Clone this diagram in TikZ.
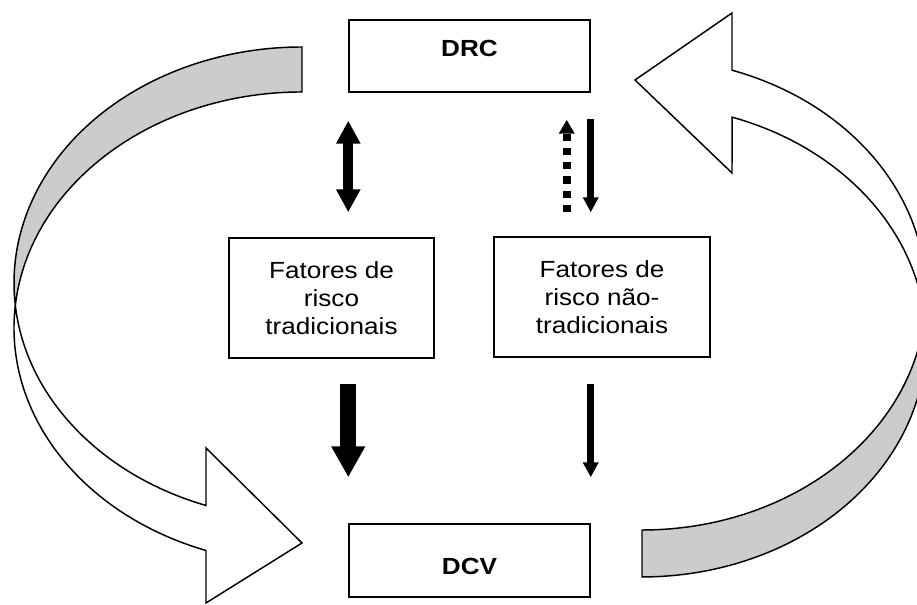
\documentclass[tikz,border=0pt]{standalone}
\usepackage{fontspec}
\setmainfont{Liberation Sans}[FakeStretch=1.12]
\usetikzlibrary{arrows.meta}

\begin{document}
\begin{tikzpicture}[
  x=0.75pt, y=0.75pt,
  every node/.style={font=\fontsize{17.5pt}{21pt}\selectfont, align=center},
  caixa/.style={draw, line width=1.1pt, rectangle, inner sep=0pt},
  caixaDR/.style={caixa, minimum width=180.75pt, minimum height=54pt, font=\fontsize{17.5pt}{21pt}\selectfont\bfseries},
  caixaFR/.style={caixa, minimum height=90pt},
  setaDupla/.style={{Triangle[length=17.25pt,width=17.25pt]}-{Triangle[length=17.25pt,width=17.25pt]}, line width=7.5pt},
  setaGrossa/.style={-{Triangle[length=23.25pt,width=24pt]}, line width=12pt},
  setaFina/.style={-{Triangle[length=11.25pt,width=11.25pt]}, line width=5.25pt},
  setaPont/.style={-{Triangle[length=10.5pt,width=11.25pt]}, line width=6pt, dash pattern=on 5.5pt off 5.2pt},
  curva/.style={draw, line width=1.1pt, line join=miter}
]
\useasboundingbox (0,0) rectangle (917,605);
\clip (0,0) rectangle (917,605);
% Caixas
\node[caixaDR, text depth=11pt] (drc) at (469.5,549) {DRC};
\node[caixaFR, minimum width=153.75pt] (trad) at (331.5,307) {Fatores de\\risco\\tradicionais};
\node[caixaFR, minimum width=162pt] (ntrad) at (602,308) {Fatores de\\risco não-\\tradicionais};
\node[caixaDR, minimum height=54.75pt, text height=21pt] (dcv) at (469.5,44.5) {DCV};
\coordinate (pont) at ([xshift=-18pt]drc.south east);
% Setas entre as caixas
\draw[setaDupla, shorten <=21pt, shorten >=18.75pt] (drc.south west) -- (drc.south west |- trad.north);
\draw[setaPont, shorten <=18pt, shorten >=20.25pt] (pont |- ntrad.north) -- (pont);
\draw[setaFina, shorten <=19.5pt, shorten >=18pt] (drc.south east) -- (drc.south east |- ntrad.north);
\draw[setaGrossa, shorten <=18.75pt, shorten >=34.5pt] (trad.south -| dcv.north west) -- (dcv.north west);
\draw[setaFina, shorten <=19.5pt, shorten >=34.5pt] (ntrad.south -| dcv.north east) -- (dcv.north east);
% Seta curva da esquerda (DRC -> DCV)
\draw[curva, fill=black!20] (302,558) arc[start angle=90, end angle=185.47, x radius=288, y radius=236]
  arc[start angle=174.53, end angle=90, x radius=288, y radius=236] -- cycle;
\draw[curva, fill=white] (15.31,299.5) arc[start angle=174.53, end angle=250.53, x radius=288, y radius=236]
  -- (206,2) -- (302,62) -- (206,157) -- (206,99.5)
  arc[start angle=250.53, end angle=185.47, x radius=288, y radius=236] -- cycle;
% Seta curva da direita (DCV -> DRC)
\draw[curva, fill=black!20] (642,75) arc[start angle=-90, end angle=-5.71, x radius=284, y radius=236]
  arc[start angle=5.71, end angle=-90, x radius=284, y radius=236] -- cycle;
\draw[curva, fill=white] (924.6,287.5) arc[start angle=5.71, end angle=71.52, x radius=284, y radius=236]
  -- (732,432) -- (635,525) -- (732,592) -- (732,534.8)
  arc[start angle=71.52, end angle=-5.71, x radius=284, y radius=236] -- cycle;
\end{tikzpicture}
\end{document}
